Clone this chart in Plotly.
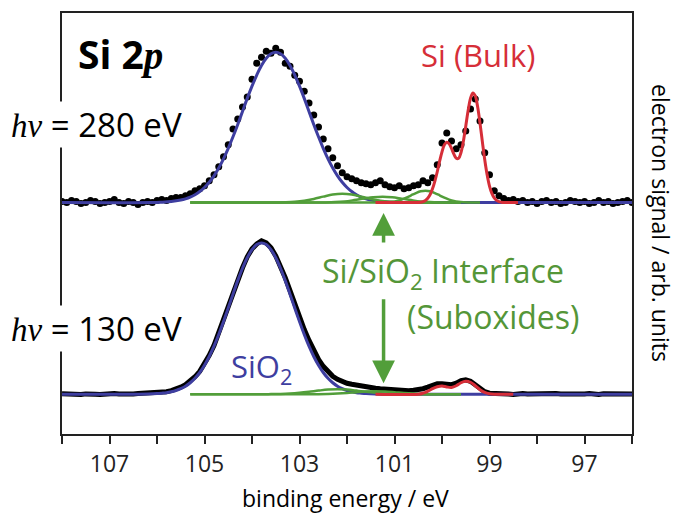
import numpy as np
import plotly.graph_objects as go

# ---------------- data ----------------
# binding energy grid of the measured spectra (eV), 0.1 eV steps from 108.0 to 96.0
E_MEAS = np.round(np.arange(108.0, 95.95, -0.1), 2)

# hv = 280 eV measured points (arb. units above the curve baseline)
DOTS_280 = [
    1, 0, 2, 1, -1, 0, 2, 1, -1, 0,
    1, 3, 0, -1, 1, 0, -2, 0, 1, 0,
    2, 3, 2, 4, 5, 5, 7, 9, 12, 14,
    17, 22, 28, 36, 46, 58, 74, 84, 96, 106,
    124, 140, 146, 152, 150, 155, 151, 140, 137, 128,
    122, 112, 100, 88, 76, 64, 54, 45, 37, 30,
    26, 24, 22, 20, 19, 18, 20, 22, 18, 16,
    15, 17, 14, 15, 17, 18, 22, 20, 25, 38,
    60, 70, 62, 54, 58, 72, 94, 104, 82, 50,
    28, 12, 7, 4, 2, 3, 1, 2, 0, 1,
    -1, 1, 2, 0, 1, -1, 0, 2, 1, 0,
    1, -1, 0, 2, 0, 1, -1, 0, 1, 2,
    0,
]

# hv = 130 eV measured spectrum
MEAS_130 = [
    0.5, 0, 0.6, 0.2, -0.4, 0.3, 0.6, 0, -0.3, 0.4,
    0.2, 0.7, 0.1, -0.2, 0.5, 0.3, 0.6, 0.8, 1.0, 1.1,
    1.3, 1.8, 2.5, 3.5, 5, 7, 9.5, 13, 17.5, 23,
    30, 39, 49, 61, 74, 88, 101, 115, 127, 138,
    146, 151, 154, 152, 147, 139, 129, 117, 104, 90,
    77, 65, 54, 44, 35, 28, 22.5, 18, 15, 12.5,
    11, 10, 9, 8, 7, 6.5, 6, 5.5, 5, 4.5,
    4, 3.5, 3.5, 3.5, 4, 4.5, 5.5, 7, 9, 10.5,
    10.5, 9.5, 9.5, 11, 13.5, 14.5, 13, 9.5, 5.5, 2.5,
    1, 0.5, 0.3, 0.6, 0.2, -0.2, 0.4, 0.6, 0.1, 0.3,
    0.5, 0, -0.3, 0.4, 0.6, 0.2, 0, 0.5, 0.3, -0.2,
    0.3, 0.6, 0.1, -0.3, 0.4, 0.2, 0.5, 0, 0.3, 0.6,
    0.2,
]

# fitted components, hv = 280 eV
SIO2_280_E = [108.0, 106.1, 105.9, 105.7, 105.5, 105.4, 105.3, 105.2, 105.1, 105.0, 104.9, 104.8,
              104.7, 104.6, 104.5, 104.4, 104.3, 104.2, 104.1, 104.0, 103.9, 103.8, 103.7, 103.6,
              103.5, 103.4, 103.3, 103.2, 103.1, 103.0, 102.9, 102.8, 102.7, 102.6, 102.5, 102.4,
              102.3, 102.2, 102.1, 102.0, 101.9, 101.8, 101.7, 101.6, 101.5, 101.3, 101.1, 100.9,
              100.7, 96.0]
SIO2_280_I = [0, 0, 0.4, 1.1, 2.6, 3.8, 5.5, 7.9, 11.1, 15.2, 20.4, 26.9,
              34.7, 43.9, 54.5, 66.1, 78.5, 91.6, 104.7, 117, 128.2, 137.8, 145, 149.5,
              151, 149.5, 145, 137.8, 128.2, 117, 104.7, 91.6, 78.5, 66.1, 54.5, 43.9,
              34.7, 26.9, 20.4, 15.2, 11.1, 7.9, 5.5, 3.8, 2.6, 1.1, 0.4, 0.1,
              0, 0]

BULK_280_E = [101.4, 100.5, 100.45, 100.4, 100.35, 100.3, 100.25, 100.2, 100.15, 100.1, 100.05,
              100.0, 99.95, 99.9, 99.85, 99.8, 99.75, 99.7, 99.65, 99.6, 99.55, 99.5, 99.45,
              99.4, 99.35, 99.3, 99.25, 99.2, 99.15, 99.1, 99.05, 99.0, 98.95, 98.9, 98.85,
              98.8, 98.75, 98.7, 98.4]
BULK_280_I = [0, 0.2, 0.4, 1.0, 2.2, 4.4, 8.1, 13.8, 21.6, 31, 41.6,
              51, 58, 60.7, 59, 54.4, 48.7, 44.5, 44.5, 50.3, 61.6, 76.8, 92.5,
              104.7, 110.2, 107.2, 96.4, 79.9, 61, 43, 27.9, 16.6, 9.2, 4.7, 2.2,
              0.9, 0.4, 0.1, 0]

SUB1_280_E = [105.3, 103.5, 103.3, 103.1, 102.9, 102.7, 102.5, 102.3, 102.1, 101.9, 101.7,
              101.5, 101.3, 101.1, 100.9, 100.7, 99.6]
SUB1_280_I = [0, 0, 0.25, 0.76, 1.85, 3.7, 6.0, 8.2, 9, 8.2, 6.0, 3.7, 1.85, 0.76, 0.25, 0, 0]
SUB2_280_E = [105.3, 102.65, 102.45, 102.25, 102.05, 101.85, 101.65, 101.45, 101.25, 101.05,
              100.85, 100.65, 100.45, 100.25, 100.05, 99.85, 99.6]
SUB2_280_I = [0, 0, 0.17, 0.5, 1.2, 2.5, 4.0, 5.4, 6, 5.4, 4.0, 2.5, 1.2, 0.5, 0.17, 0, 0]
SUB3_280_E = [105.3, 101.35, 101.25, 101.15, 101.05, 100.95, 100.85, 100.75, 100.65, 100.55,
              100.45, 100.35, 100.25, 100.15, 100.05, 99.95, 99.85, 99.75, 99.65, 99.55,
              99.45, 99.35, 99.2]
SUB3_280_I = [0, 0, 0.1, 0.34, 0.8, 1.6, 3.0, 4.9, 7.3, 9.6, 11.4, 12, 11.4, 9.6, 7.3, 4.9,
              3.0, 1.6, 0.8, 0.34, 0.1, 0, 0]

# fitted components, hv = 130 eV
SIO2_130_E = [108.0, 106.4, 106.2, 106.0, 105.9, 105.8, 105.7, 105.6, 105.5, 105.4, 105.3, 105.2,
              105.1, 105.0, 104.9, 104.8, 104.7, 104.6, 104.5, 104.4, 104.3, 104.2, 104.1, 104.0,
              103.9, 103.8, 103.7, 103.6, 103.5, 103.4, 103.3, 103.2, 103.1, 103.0, 102.9, 102.8,
              102.7, 102.6, 102.5, 102.4, 102.3, 102.2, 102.1, 102.0, 101.9, 101.8, 101.7, 101.6,
              101.4, 101.2, 96.0]
SIO2_130_I = [0, 0, 0.2, 0.6, 1, 1.5, 2.4, 3.7, 5.5, 8, 11.5, 16,
              21.8, 29.1, 37.9, 48.2, 60, 72.9, 86.6, 100.5, 114.1, 126.5, 137.1, 145.2,
              150.3, 152, 150.3, 145.2, 137.1, 126.5, 114.1, 100.5, 86.6, 72.9, 60, 48.2,
              37.9, 29.1, 21.8, 16, 11.5, 8, 5.5, 3.7, 2.4, 1.5, 1, 0.6,
              0.2, 0, 0]

BULK_130_E = [101.4, 100.5, 100.4, 100.3, 100.2, 100.1, 100.0, 99.9, 99.8, 99.7, 99.6, 99.5,
              99.4, 99.3, 99.2, 99.1, 99.0, 98.9, 98.5]
BULK_130_I = [0, 0, 1, 3, 5.5, 7.5, 8.3, 7.3, 6.8, 8.5, 11.5, 13, 12, 8.5, 4.5, 1.8, 0.5, 0, 0]

SUB1_130_E = [105.3, 103.8, 103.6, 103.4, 103.2, 103.0, 102.8, 102.6, 102.4, 102.2, 102.0,
              101.8, 101.6, 101.4, 101.2, 101.0, 100.8, 100.6, 99.6]
SUB1_130_I = [0, 0, 0.1, 0.28, 0.68, 1.4, 2.4, 3.6, 4.6, 5, 4.6, 3.6, 2.4, 1.4, 0.68, 0.28,
              0.1, 0, 0]
SUB2_130_E = [105.3, 102.6, 102.4, 102.2, 102.0, 101.8, 101.6, 101.4, 101.2, 101.0, 100.8,
              100.6, 100.4, 100.2, 99.6]
SUB2_130_I = [0, 0, 0.2, 0.6, 1.2, 2.0, 2.7, 3, 2.7, 2.0, 1.2, 0.6, 0.2, 0, 0]

# vertical offsets of the two stacked spectra
OFFSET_280 = 232.5
OFFSET_130 = 40.0

X_TICKS = [108, 107, 106, 105, 104, 103, 102, 101, 100, 99, 98, 97, 96]
X_TICK_TEXT = ["", "107", "", "105", "", "103", "", "101", "", "99", "", "97", ""]

# ---------------- styling ----------------
BLUE = "rgb(62,62,160)"
RED = "rgb(214,46,56)"
GREEN = "rgb(82,158,58)"
GREEN_TXT = "rgb(84,150,56)"
FONT = "Open Sans"
SERIF = "Liberation Serif"

BODY = 8                      # default page margin around the plot div
W, H = 682 - BODY, 515 - BODY
PL, PT, PW, PH = 62, 11, 570, 423   # plot area in page pixels
L, T = PL - BODY, PT - BODY
R = W - L - PW
B = H - T - PH


def px(x):
    return (x - PL) / PW


def py(y):
    return (PT + PH - y) / PH


def off(vals, o):
    return [v + o for v in vals]


fig = go.Figure()

# measured data
fig.add_trace(go.Scatter(x=E_MEAS, y=off(DOTS_280, OFFSET_280), mode="markers",
                         marker=dict(color="black", size=7), showlegend=False))
fig.add_trace(go.Scatter(x=E_MEAS, y=off(MEAS_130, OFFSET_130), mode="lines",
                         line=dict(color="black", width=5), showlegend=False))

# components
for e, i, o in [(SIO2_280_E, SIO2_280_I, OFFSET_280), (SIO2_130_E, SIO2_130_I, OFFSET_130)]:
    fig.add_trace(go.Scatter(x=e, y=off(i, o), mode="lines", line=dict(color=BLUE, width=3),
                             line_shape="spline", showlegend=False))
for e, i, o in [(SUB1_280_E, SUB1_280_I, OFFSET_280), (SUB2_280_E, SUB2_280_I, OFFSET_280),
                (SUB3_280_E, SUB3_280_I, OFFSET_280), (SUB1_130_E, SUB1_130_I, OFFSET_130),
                (SUB2_130_E, SUB2_130_I, OFFSET_130)]:
    fig.add_trace(go.Scatter(x=e, y=off(i, o), mode="lines", line=dict(color=GREEN, width=2.5),
                             line_shape="spline", showlegend=False))
for e, i, o in [(BULK_280_E, BULK_280_I, OFFSET_280), (BULK_130_E, BULK_130_I, OFFSET_130)]:
    fig.add_trace(go.Scatter(x=e, y=off(i, o), mode="lines", line=dict(color=RED, width=3),
                             line_shape="spline", showlegend=False))

ann = []


def text(x, y, s, color="black", size=32, xanchor="left", bg=None, angle=0):
    d = dict(x=px(x), y=py(y), xref="paper", yref="paper", text=s, showarrow=False,
             xanchor=xanchor, yanchor="middle", font=dict(family=FONT, size=size, color=color),
             textangle=angle)
    if bg:
        d.update(bgcolor=bg, borderpad=0)
    ann.append(d)


text(76, 52, "<b>Si 2</b><span style='font-family:%s'><b><i>p</i></b></span>" % SERIF, size=39)
text(10, 123, "<span style='font-family:%s'><i>hν</i></span> = 280 eV" % SERIF, size=33, bg="white")
text(10, 328, "<span style='font-family:%s'><i>hν</i></span> = 130 eV" % SERIF, size=33, bg="white")
text(419, 53, "Si (Bulk)", color=RED, size=31)
text(320, 272, "Si/SiO<sub>2</sub> Interface", color=GREEN_TXT, size=32)
text(405, 316, "(Suboxides)", color=GREEN_TXT, size=32)
text(229, 368, "SiO<sub>2</sub>", color=BLUE, size=31)
text(661, 222, "electron signal / arb. units", size=23, xanchor="center", angle=90)
text(345, 498, "binding energy / eV", size=23, xanchor="center")

# green arrows marking the interface signal
ARROW_E = 101.23
ann.append(dict(x=ARROW_E, y=222, ax=ARROW_E, ay=191, xref="x", yref="y", axref="x", ayref="y",
                showarrow=True, arrowhead=2, arrowsize=1.3, arrowwidth=3.5, arrowcolor=GREEN,
                text=""))
ann.append(dict(x=ARROW_E, y=51, ax=ARROW_E, ay=137, xref="x", yref="y", axref="x", ayref="y",
                showarrow=True, arrowhead=2, arrowsize=1.3, arrowwidth=3.5, arrowcolor=GREEN,
                text=""))

fig.update_layout(
    width=W, height=H, margin=dict(l=L, r=R, t=T, b=B),
    paper_bgcolor="white", plot_bgcolor="white",
    annotations=ann, showlegend=False,
    xaxis=dict(range=[108, 96], tickvals=X_TICKS, ticktext=X_TICK_TEXT, ticks="outside",
               ticklen=8, tickwidth=2, tickcolor="#222", showline=True, linecolor="#222",
               linewidth=2, mirror=True, showgrid=False, zeroline=False,
               tickfont=dict(family=FONT, size=23, color="#222")),
    yaxis=dict(range=[0, PH], showticklabels=False, ticks="", showline=True, linecolor="#222",
               linewidth=2, mirror=True, showgrid=False, zeroline=False),
)

fig.write_html("out.html")
